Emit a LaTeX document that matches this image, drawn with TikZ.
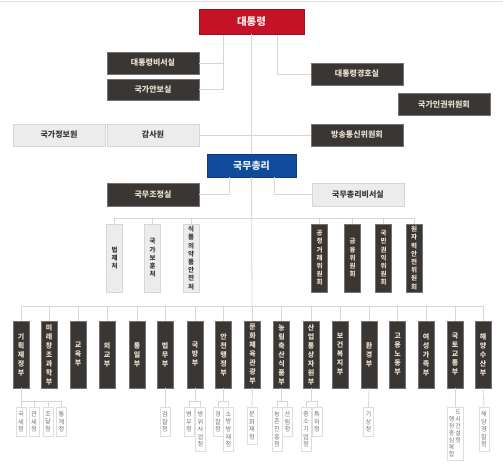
\documentclass[tikz,border=0pt]{standalone}
\usepackage{fontspec}
\setmainfont{Noto Sans CJK KR}
\definecolor{redc}{RGB}{198,18,38}
\definecolor{bluec}{RGB}{16,74,154}
\definecolor{dk}{RGB}{58,54,52}
\definecolor{dktext}{RGB}{232,224,208}
\definecolor{lt}{RGB}{236,236,236}
\definecolor{ltborder}{RGB}{214,214,214}
\definecolor{lttext}{RGB}{55,55,55}
\definecolor{subb}{RGB}{222,222,222}
\definecolor{subt}{RGB}{115,115,115}
\definecolor{linec}{RGB}{214,214,214}
\newcommand\kcell[1]{\makebox[6.5pt]{#1}}
\tikzset{
  box/.style={rectangle, inner sep=0pt, font=\fontsize{8}{9}\selectfont\bfseries},
  dbox/.style={box, fill=dk, draw=dk!70!white, line width=0.6pt, text=dktext},
  lbox/.style={box, fill=lt, draw=ltborder, line width=0.6pt, text=lttext},
  hb/.style={minimum width=92pt, minimum height=22pt},
  vb/.style={minimum width=16pt, minimum height=67pt, align=center, font=\fontsize{7}{9}\selectfont\bfseries},
  vb2/.style={minimum width=16pt, minimum height=68pt, align=center, font=\fontsize{6.5}{8.2}\selectfont\bfseries},
  sb/.style={rectangle, inner sep=0pt, fill=white, draw=subb, line width=0.6pt, text=subt, minimum width=10pt, anchor=north, align=center, font=\fontsize{6.2}{7.6}\selectfont},
  conn/.style={draw=linec, line width=0.8pt}
}
\begin{document}
\begin{tikzpicture}[x=1pt,y=-1pt]
\useasboundingbox[fill=white] (0,0) rectangle (503,469);
\draw[draw=linec!80, line width=1pt] (0,1.5) -- (503,1.5);

% top level
\node[box, fill=redc, draw=redc!80!black, line width=0.6pt, text=white!92!redc, minimum width=105pt, minimum height=25pt, font=\fontsize{10.5}{12}\selectfont\bfseries] (pres) at (251.5,21.5) {대통령};
\node[dbox,hb] (bs) at (153,63) {대통령비서실};
\node[dbox,hb,minimum height=21pt] (an) at (153,89.5) {국가안보실};
\node[dbox,hb] (gh) at (357,74) {대통령경호실};
\node[dbox,hb] (ik) at (444,104) {국가인권위원회};
\node[lbox,hb] (gj) at (59,135) {국가정보원};
\node[lbox,hb] (gam) at (153,135) {감사원};
\node[dbox,hb] (bang) at (357,135) {방송통신위원회};

\node[box, fill=bluec, draw=bluec!80!black, line width=0.6pt, text=white!92!bluec, minimum width=89pt, minimum height=23pt, font=\fontsize{10}{12}\selectfont\bfseries] (pm) at (251.5,165.5) {국무총리};
\node[dbox,hb,minimum height=23pt] (jo) at (153,194.5) {국무조정실};
\node[lbox,hb,minimum height=23pt] (pbs) at (358,194.5) {국무총리비서실};

% row 2
\node[lbox,vb2] (r1) at (114.5,258) {법\\제\\처};
\node[lbox,vb2] (r2) at (152.5,258) {국\\가\\보\\훈\\처};
\node[lbox,vb2] (r3) at (191,258) {식\\품\\의\\약\\품\\안\\전\\처};
\node[dbox,vb2] (r4) at (319.5,258) {공\\정\\거\\래\\위\\원\\회};
\node[dbox,vb2] (r5) at (352.5,258) {금\\융\\위\\원\\회};
\node[dbox,vb2] (r6) at (383.5,258) {국\\민\\권\\익\\위\\원\\회};
\node[dbox,vb2] (r7) at (414,258) {원\\자\\력\\안\\전\\위\\원\\회};

% row 3 ministries
\node[dbox,vb] (m1) at (21,354.5) {기\\획\\재\\정\\부};
\node[dbox,vb] (m2) at (49,354.5) {미\\래\\창\\조\\과\\학\\부};
\node[dbox,vb] (m3) at (78,354.5) {교\\육\\부};
\node[dbox,vb] (m4) at (107,354.5) {외\\교\\부};
\node[dbox,vb] (m5) at (137,354.5) {통\\일\\부};
\node[dbox,vb] (m6) at (165,354.5) {법\\무\\부};
\node[dbox,vb] (m7) at (195,354.5) {국\\방\\부};
\node[dbox,vb] (m8) at (223.5,354.5) {안\\전\\행\\정\\부};
\node[dbox,vb] (m9) at (252.5,354.5) {문\\화\\체\\육\\관\\광\\부};
\node[dbox,vb] (m10) at (281.5,354.5) {농\\림\\축\\산\\식\\품\\부};
\node[dbox,vb] (m11) at (311,354.5) {산\\업\\통\\상\\자\\원\\부};
\node[dbox,vb] (m12) at (340,354.5) {보\\건\\복\\지\\부};
\node[dbox,vb] (m13) at (369,354.5) {환\\경\\부};
\node[dbox,vb] (m14) at (397.5,354.5) {고\\용\\노\\동\\부};
\node[dbox,vb] (m15) at (426,354.5) {여\\성\\가\\족\\부};
\node[dbox,vb] (m16) at (455,354.5) {국\\토\\교\\통\\부};
\node[dbox,vb] (m17) at (483,354.5) {해\\양\\수\\산\\부};

% sub agencies
\node[sb,minimum height=29pt] (s1) at (21,407) {국\\세\\청};
\node[sb,minimum height=29pt] (s2) at (34,407) {관\\세\\청};
\node[sb,minimum height=29pt] (s3) at (48,407) {조\\달\\청};
\node[sb,minimum height=29pt] (s4) at (61.5,407) {통\\계\\청};
\node[sb,minimum height=29pt] (s5) at (165,407) {검\\찰\\청};
\node[sb,minimum height=29pt] (s6) at (189,407) {병\\무\\청};
\node[sb,minimum height=44pt] (s7) at (200.5,407) {방\\위\\사\\업\\청};
\node[sb,minimum height=29pt] (s8) at (218,407) {경\\찰\\청};
\node[sb,minimum height=44pt] (s9) at (228.5,407) {소\\방\\방\\재\\청};
\node[sb,minimum height=37pt] (s10) at (252,407) {문\\화\\재\\청};
\node[sb,minimum height=44pt] (s11) at (277,407) {농\\촌\\진\\흥\\청};
\node[sb,minimum height=29pt] (s12) at (287.5,407) {산\\림\\청};
\node[sb,minimum height=44pt] (s13) at (306,407) {중\\소\\기\\업\\청};
\node[sb,minimum height=29pt] (s14) at (317,407) {특\\허\\청};
\node[sb,minimum height=29pt] (s15) at (368.5,407) {기\\상\\청};
\node[sb,minimum height=53pt,minimum width=16pt,font=\fontsize{6}{7}\selectfont] (s16) at (455,407) {\kcell{}\kcell{도}\\\kcell{행}\kcell{시}\\\kcell{정}\kcell{건}\\\kcell{중}\kcell{설}\\\kcell{심}\kcell{청}\\\kcell{복}\kcell{}\\\kcell{합}\kcell{}};
\node[sb,minimum height=44pt] (s17) at (484,407) {해\\양\\경\\찰\\청};

% helper coordinates
\coordinate (pl) at (223,34.5);
\coordinate (pr) at (277,34.5);
\coordinate (pml) at (229,177);
\coordinate (pmr) at (274,177);
\coordinate (b2) at (252,218);
\coordinate (b3) at (252,306);
\coordinate (sbar) at (0,401);

% connectors top
\draw[conn] (pres.south) -- (pm.north);
\draw[conn] (pl) |- (bs.east);
\draw[conn] (pl) |- (an.east);
\draw[conn] (pr) |- (gh.west);
\draw[conn] (gam.east) -- (bang.west);
\draw[conn] (pml) |- (jo.east);
\draw[conn] (pmr) |- (pbs.west);
\draw[conn] (pm.south) -- (b3);

% row 2 bar
\draw[conn] (r1.north |- b2) -- (r7.north |- b2);
\foreach \n in {r1,r2,r3,r4,r5,r6,r7} \draw[conn] (\n.north) -- (\n.north |- b2);

% row 3 bar
\draw[conn] (m1.north |- b3) -- (m17.north |- b3);
\foreach \n in {m1,m2,m3,m4,m5,m6,m7,m8,m9,m10,m11,m12,m13,m14,m15,m16,m17} \draw[conn] (\n.north) -- (\n.north |- b3);

% sub connectors
\draw[conn] (m1.south) -- (m1.south |- sbar);
\draw[conn] (s1.north |- sbar) -- (s4.north |- sbar);
\foreach \n in {s1,s2,s3,s4} \draw[conn] (\n.north) -- (\n.north |- sbar);
\draw[conn] (m6.south) -- (s5.north);
\draw[conn] (m7.south) -- (m7.south |- sbar);
\draw[conn] (s6.north |- sbar) -- (s7.north |- sbar);
\foreach \n in {s6,s7} \draw[conn] (\n.north) -- (\n.north |- sbar);
\draw[conn] (m8.south) -- (m8.south |- sbar);
\draw[conn] (s8.north |- sbar) -- (s9.north |- sbar);
\foreach \n in {s8,s9} \draw[conn] (\n.north) -- (\n.north |- sbar);
\draw[conn] (m9.south) -- (s10.north);
\draw[conn] (m10.south) -- (m10.south |- sbar);
\draw[conn] (s11.north |- sbar) -- (s12.north |- sbar);
\foreach \n in {s11,s12} \draw[conn] (\n.north) -- (\n.north |- sbar);
\draw[conn] (m11.south) -- (m11.south |- sbar);
\draw[conn] (s13.north |- sbar) -- (s14.north |- sbar);
\foreach \n in {s13,s14} \draw[conn] (\n.north) -- (\n.north |- sbar);
\draw[conn] (m13.south) -- (s15.north);
\draw[conn] (m16.south) -- (s16.north);
\draw[conn] (m17.south) -- (s17.north);
\end{tikzpicture}
\end{document}
